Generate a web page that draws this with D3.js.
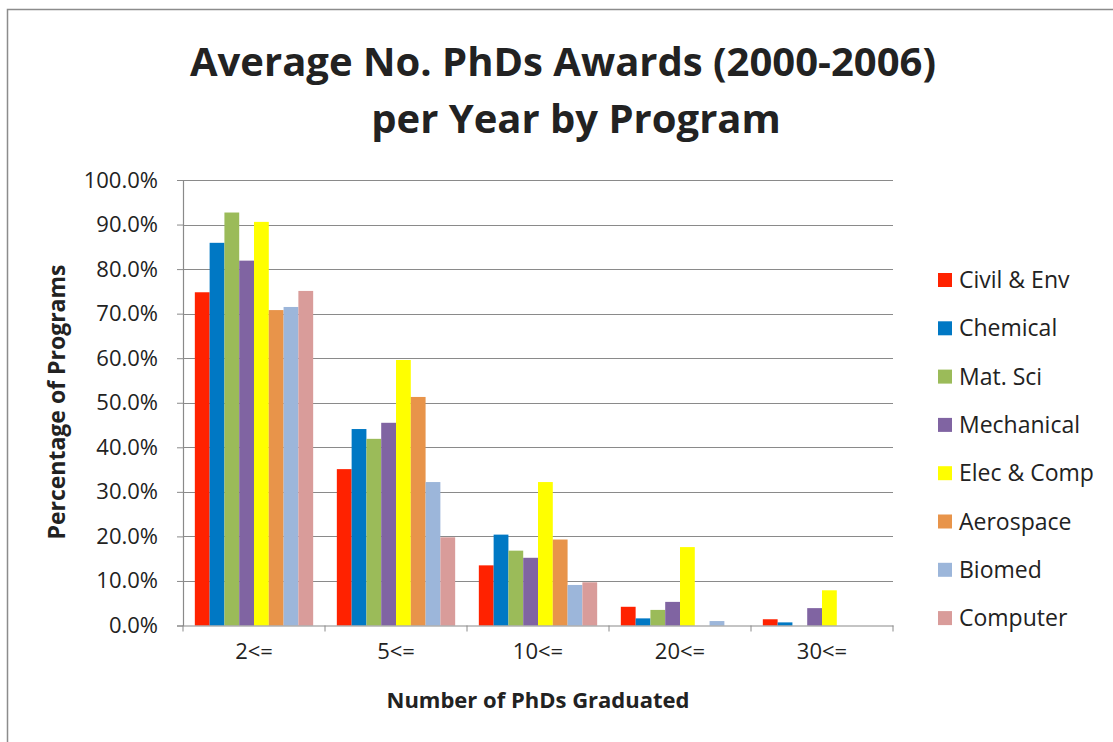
<!DOCTYPE html>
<html>
<head>
  <meta charset="utf-8">
  <title>Average No. PhDs Awards</title>
  <style>
    body { margin: 0; background: #fff; }
    text { font-family: "Open Sans", sans-serif; fill: #222; }
  </style>
</head>
<body>
  <script src="https://d3js.org/d3.v7.min.js"></script>
  <script>

// data (percent of programs)
var categories = ["2<=", "5<=", "10<=", "20<=", "30<="];
var series = ["Civil & Env", "Chemical", "Mat. Sci", "Mechanical", "Elec & Comp", "Aerospace", "Biomed", "Computer"];
var colors = ["#ff2200", "#0078c4", "#9bbb59", "#8064a2", "#ffff00", "#e8944a", "#9cb6da", "#d99c9a"];

var civil      = [74.8, 35.1, 13.5, 4.2, 1.4];
var chemical   = [85.9, 44.1, 20.4, 1.6, 0.7];
var matSci     = [92.7, 41.9, 16.8, 3.5, 0];
var mechanical = [81.9, 45.5, 15.2, 5.3, 3.9];
var elecComp   = [90.6, 59.6, 32.2, 17.6, 7.9];
var aerospace  = [70.8, 51.3, 19.3, 0, 0];
var biomed     = [71.5, 32.2, 9.1, 1.0, 0];
var computer   = [75.1, 19.8, 9.7, 0, 0];
var values = [civil, chemical, matSci, mechanical, elecComp, aerospace, biomed, computer];

var yTicks = [0, 10, 20, 30, 40, 50, 60, 70, 80, 90, 100];

var W = 1113, H = 742;
var plotLeft = 183, plotRight = 893, plotTop = 180, plotBottom = 625.5;

var svg = d3.select("body").append("svg")
    .attr("width", W)
    .attr("height", H);

// chart frame
svg.append("rect")
    .attr("x", 7.5).attr("y", 9.5)
    .attr("width", W + 20).attr("height", H + 20)
    .attr("fill", "#fff")
    .attr("stroke", "#8c8c8c")
    .attr("stroke-width", 1.5);

var x0 = d3.scaleBand().domain(categories).range([plotLeft, plotRight]).padding(0);
var x1 = d3.scaleBand().domain(series).range([0, x0.bandwidth()]).paddingInner(0).paddingOuter(0.8);
var y = d3.scaleLinear().domain([0, 100]).range([plotBottom, plotTop]);

// gridlines
svg.append("g").selectAll("line")
    .data(yTicks.slice(1))
    .join("line")
    .attr("x1", plotLeft).attr("x2", plotRight)
    .attr("y1", function(d) { return Math.round(y(d)) + 0.5; })
    .attr("y2", function(d) { return Math.round(y(d)) + 0.5; })
    .attr("stroke", "#8a8a8a")
    .attr("stroke-width", 1.2);

// bars
var groups = svg.append("g").selectAll("g")
    .data(categories)
    .join("g")
    .attr("transform", function(d) { return "translate(" + x0(d) + ",0)"; });

groups.selectAll("rect")
    .data(function(c, ci) { return series.map(function(s, si) { return {s: s, i: si, v: values[si][ci]}; }); })
    .join("rect")
    .attr("x", function(d) { return x1(d.s); })
    .attr("width", x1.bandwidth())
    .attr("y", function(d) { return y(d.v); })
    .attr("height", function(d) { return y(0) - y(d.v); })
    .attr("fill", function(d) { return colors[d.i]; });

// y axis
var yAxis = svg.append("g")
    .attr("transform", "translate(" + plotLeft + ",0)")
    .call(d3.axisLeft(y).tickValues(yTicks).tickSize(6).tickPadding(19)
        .tickFormat(function(d) { return d.toFixed(1) + "%"; }));
yAxis.select(".domain").attr("stroke", "#8a8a8a").attr("stroke-width", 1.2);
yAxis.selectAll(".tick line").attr("stroke", "#8a8a8a");
yAxis.selectAll(".tick text")
    .style("font-family", "Open Sans, sans-serif")
    .style("font-size", "22px")
    .attr("fill", "#333");

// x axis
var xAxis = svg.append("g")
    .attr("transform", "translate(0," + plotBottom + ")")
    .call(d3.axisBottom(x0).tickSize(0).tickPadding(18));
xAxis.select(".domain").attr("stroke", "#8a8a8a").attr("stroke-width", 1.2);
xAxis.selectAll(".tick text")
    .style("font-family", "Open Sans, sans-serif")
    .style("font-size", "22px")
    .attr("fill", "#333");

// category boundary ticks
svg.append("g").selectAll("line")
    .data(x0.domain().map(function(d) { return x0(d); }).concat([plotRight]))
    .join("line")
    .attr("x1", function(d) { return d; })
    .attr("x2", function(d) { return d; })
    .attr("y1", plotBottom).attr("y2", plotBottom + 6)
    .attr("stroke", "#8a8a8a");

// titles
svg.append("text")
    .attr("x", 563).attr("y", 76)
    .attr("text-anchor", "middle")
    .style("font-weight", "bold").style("font-size", "40px")
    .text("Average No. PhDs Awards (2000-2006)");
svg.append("text")
    .attr("x", 576).attr("y", 133)
    .attr("text-anchor", "middle")
    .style("font-weight", "bold").style("font-size", "40px")
    .text("per Year by Program");

svg.append("text")
    .attr("x", 538).attr("y", 708)
    .attr("text-anchor", "middle")
    .style("font-weight", "bold").style("font-size", "22px")
    .text("Number of PhDs Graduated");

svg.append("text")
    .attr("transform", "translate(65,402) rotate(-90)")
    .attr("text-anchor", "middle")
    .style("font-weight", "bold").style("font-size", "23px")
    .text("Percentage of Programs");

// legend
var legend = svg.append("g").selectAll("g")
    .data(series)
    .join("g")
    .attr("transform", function(d, i) { return "translate(938," + (280 + i * 48.3) + ")"; });
legend.append("rect")
    .attr("x", 0).attr("y", -7)
    .attr("width", 14).attr("height", 14)
    .attr("fill", function(d, i) { return colors[i]; });
legend.append("text")
    .attr("x", 21).attr("y", 8)
    .style("font-size", "23px")
    .attr("fill", "#333")
    .text(function(d) { return d; });

  </script>
</body>
</html>
